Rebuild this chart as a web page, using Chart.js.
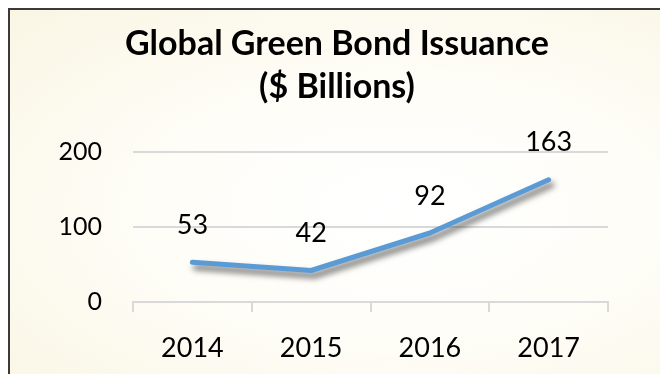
<!DOCTYPE html>
<html>
<head>
<meta charset="utf-8">
<script src="https://cdn.jsdelivr.net/npm/chart.js@4.4.0/dist/chart.umd.min.js"></script>
<style>
    html, body { margin: 0; padding: 0; background: #fff; }
    #wrap {
        position: absolute; left: 0; top: 0; width: 660px; height: 374px;
    }
    #frame {
        position: absolute; left: 8px; top: 8px; right: 0; bottom: 0;
        border-top: 2px solid #3a3a3a; border-left: 2px solid #3a3a3a;
        background: radial-gradient(ellipse at 60% 55%, #ffffff 0%, #fefdf7 45%, #faf6e4 100%);
    }
    canvas { position: absolute; left: 0; top: 0; }
</style>
</head>
<body>
<div id="wrap">
    <div id="frame"></div>
    <canvas id="myChart" width="660" height="374"></canvas>
</div>
<script>
// datos del gráfico
const years = ['2014', '2015', '2016', '2017'];
const issuance = [53, 42, 92, 163];
const yTicks = [0, 100, 200];
const titleLines = ['Global Green Bond Issuance', '($ Billions)'];

const FONT = 'Lato, "Open Sans", sans-serif';

// sombra de la línea
const shadowPlugin = {
    id: 'lineShadow',
    beforeDatasetsDraw: (chart) => {
        const ctx = chart.ctx;
        ctx.save();
        ctx.shadowColor = 'rgba(0,0,0,0.6)';
        ctx.shadowBlur = 6;
        ctx.shadowOffsetX = 3;
        ctx.shadowOffsetY = 5;
    },
    afterDatasetsDraw: (chart) => {
        chart.ctx.restore();
    }
};

// etiquetas de valores y título
const labelsPlugin = {
    id: 'valueLabels',
    afterDraw: (chart) => {
        const ctx = chart.ctx;
        const meta = chart.getDatasetMeta(0);
        ctx.save();
        ctx.fillStyle = '#000';
        ctx.textAlign = 'center';
        ctx.textBaseline = 'middle';
        ctx.font = '27px ' + FONT;
        meta.data.forEach((pt, i) => {
            ctx.fillText(issuance[i], pt.x, pt.y - 37);
        });
        ctx.font = 'bold 34px ' + FONT;
        ctx.fillText(titleLines[0], 337, 44);
        ctx.fillText(titleLines[1], 337, 87);
        ctx.restore();
    }
};

const ctx = document.getElementById('myChart').getContext('2d');
const myChart = new Chart(ctx, {
    type: 'line',
    data: {
        labels: years,
        datasets: [{
            data: issuance,
            borderColor: '#5b9bd5',
            borderWidth: 5,
            borderCapStyle: 'round',
            borderJoinStyle: 'round',
            pointRadius: 0,
            tension: 0
        }]
    },
    options: {
        responsive: false,
        animation: false,
        devicePixelRatio: 1,
        layout: { padding: { top: 152, right: 52, left: 0, bottom: 0 } },
        plugins: {
            legend: { display: false },
            tooltip: { enabled: false }
        },
        scales: {
            x: {
                offset: true,
                grid: {
                    offset: true,
                    drawOnChartArea: false,
                    drawTicks: true,
                    tickLength: 10,
                    color: '#d9d9d9',
                    lineWidth: 2
                },
                border: { display: true, color: '#d9d9d9', width: 2 },
                ticks: { color: '#000', font: { size: 27, family: FONT }, padding: 20 },
                afterFit: (scale) => { scale.height = 72; }
            },
            y: {
                min: 0,
                max: 200,
                afterBuildTicks: (scale) => {
                    scale.ticks = yTicks.map(v => ({ value: v }));
                },
                grid: { color: '#d9d9d9', lineWidth: 2, drawTicks: false },
                border: { display: false },
                ticks: { color: '#000', font: { size: 25, family: FONT }, padding: 31 },
                afterFit: (scale) => { scale.width = 133; }
            }
        }
    },
    plugins: [shadowPlugin, labelsPlugin]
});
</script>
</body>
</html>
